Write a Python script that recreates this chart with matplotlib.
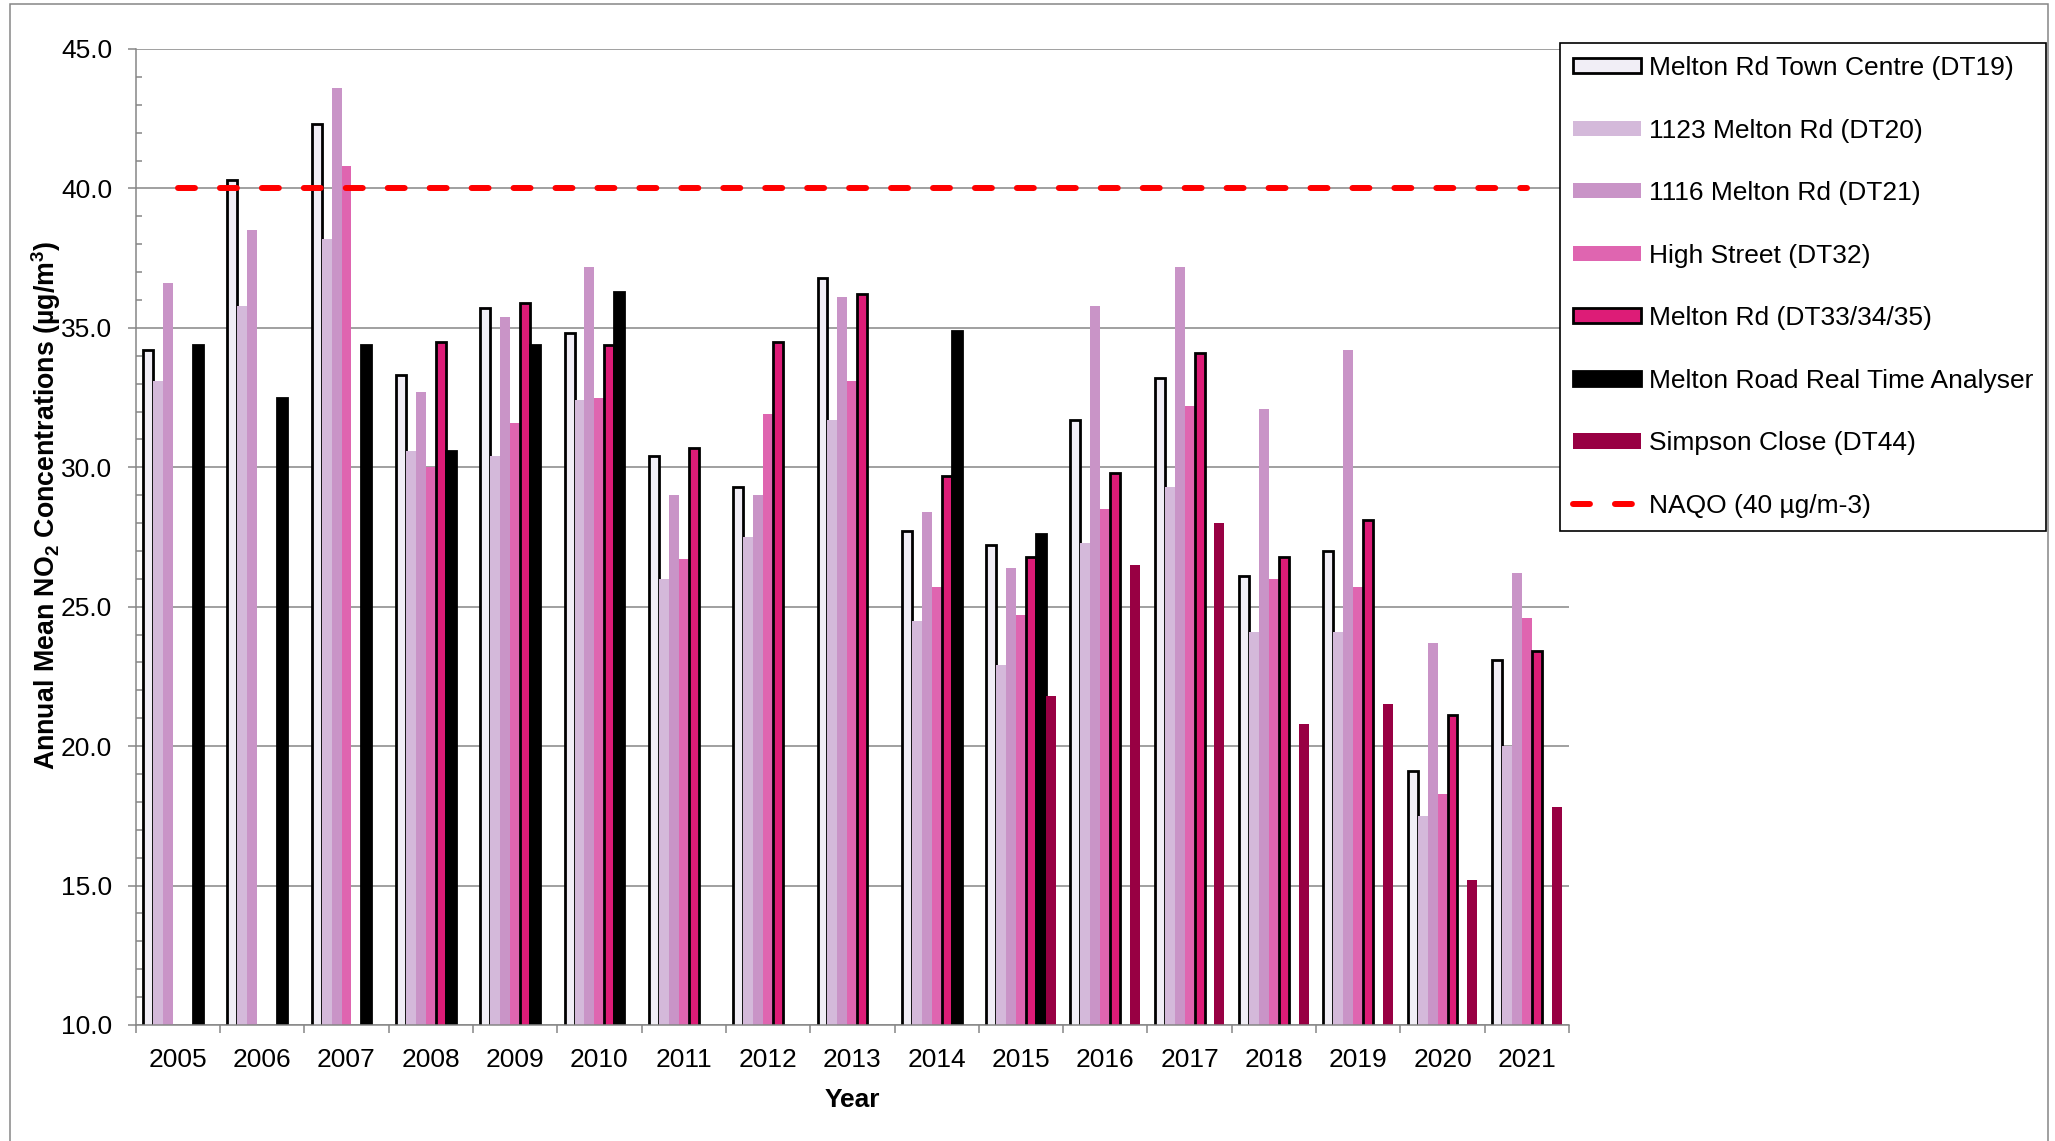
import numpy as np
import matplotlib
matplotlib.use('Agg')
import matplotlib.pyplot as plt
from matplotlib.patches import Rectangle

plt.rcParams['font.family'] = ['Liberation Sans', 'DejaVu Sans']
plt.rcParams['mathtext.fontset'] = 'custom'
plt.rcParams['mathtext.rm'] = 'Liberation Sans'
plt.rcParams['mathtext.bf'] = 'Liberation Sans:bold'
plt.rcParams['mathtext.default'] = 'bf'
plt.rcParams['lines.scale_dashes'] = False

years = ['2005', '2006', '2007', '2008', '2009', '2010', '2011', '2012', '2013',
         '2014', '2015', '2016', '2017', '2018', '2019', '2020', '2021']
nan = np.nan

dt19 = [34.2, 40.3, 42.3, 33.3, 35.7, 34.8, 30.4, 29.3, 36.8, 27.7, 27.2, 31.7, 33.2, 26.1, 27.0, 19.1, 23.1]
dt20 = [33.1, 35.8, 38.2, 30.6, 30.4, 32.4, 26.0, 27.5, 31.7, 24.5, 22.9, 27.3, 29.3, 24.1, 24.1, 17.5, 20.0]
dt21 = [36.6, 38.5, 43.6, 32.7, 35.4, 37.2, 29.0, 29.0, 36.1, 28.4, 26.4, 35.8, 37.2, 32.1, 34.2, 23.7, 26.2]
dt32 = [nan, nan, 40.8, 30.0, 31.6, 32.5, 26.7, 31.9, 33.1, 25.7, 24.7, 28.5, 32.2, 26.0, 25.7, 18.3, 24.6]
dt33 = [nan, nan, nan, 34.5, 35.9, 34.4, 30.7, 34.5, 36.2, 29.7, 26.8, 29.8, 34.1, 26.8, 28.1, 21.1, 23.4]
analyser = [34.4, 32.5, 34.4, 30.6, 34.4, 36.3, nan, nan, nan, 34.9, 27.6, nan, nan, nan, nan, nan, nan]
dt44 = [nan, nan, nan, nan, nan, nan, nan, nan, nan, nan, 21.8, 26.5, 28.0, 20.8, 21.5, 15.2, 17.8]
naqo = [40.0] * len(years)

series = [
    ('Melton Rd Town Centre (DT19)', dt19, '#f1eef6', 'black'),
    ('1123 Melton Rd (DT20)', dt20, '#d4b9da', 'none'),
    ('1116 Melton Rd (DT21)', dt21, '#c994c7', 'none'),
    ('High Street (DT32)', dt32, '#df65b0', 'none'),
    ('Melton Rd (DT33/34/35)', dt33, '#dd1c77', 'black'),
    ('Melton Road Real Time Analyser', analyser, 'black', 'black'),
    ('Simpson Close (DT44)', dt44, '#980043', 'none'),
]

W, H = 2055, 1141
fig = plt.figure(figsize=(W / 100, H / 100), dpi=100)
ax = fig.add_axes([135.7 / W, 1 - 1025 / H, (1569 - 135.7) / W, (1025 - 49) / H])

x = np.arange(len(years))
bw = 0.118
handles = []
for k, (name, vals, fc, ec) in enumerate(series):
    bars = ax.bar(x + (k - 3) * bw, vals, width=bw, color=fc, edgecolor=ec,
                  linewidth=2.0 if ec != 'none' else 0, label=name, zorder=2)
    handles.append(bars)

line, = ax.plot(x, naqo, color='#ff0000', lw=4.3, dashes=(12.2, 18), dash_capstyle='round',
                label='NAQO (40 \u00b5g/m-3)', zorder=3)
handles.append(line)

grey = '#868686'
ax.set_xlim(-0.5, len(years) - 0.5)
ax.set_ylim(10, 45)
ax.set_yticks(np.arange(10, 46, 5))
ax.set_yticks(np.arange(10, 46, 1), minor=True)
ax.set_yticklabels([f'{v:.1f}' for v in np.arange(10, 46, 5)])
ax.set_xticks(x)
ax.set_xticklabels(years)
ax.set_xticks(np.arange(-0.5, len(years)), minor=True)
ax.grid(axis='y', which='major', color=grey, lw=1.1, zorder=0)
ax.set_axisbelow(True)

for side in ['top', 'right']:
    ax.spines[side].set_visible(False)
for side in ['left', 'bottom']:
    ax.spines[side].set_color(grey)
    ax.spines[side].set_linewidth(1.1)

ax.tick_params(axis='y', which='major', direction='out', length=5.8, width=1.1, color=grey,
               pad=11, labelsize=19)
ax.tick_params(axis='y', which='minor', direction='in', length=4.3, width=1.1, color=grey)
ax.tick_params(axis='x', which='major', length=0, pad=16.5, labelsize=19)
ax.tick_params(axis='x', which='minor', direction='out', length=5.8, width=1.1, color=grey)

ax.set_xlabel('Year', fontsize=19, fontweight='bold', labelpad=11.5)
fig.text(46 / W, 1 - 505 / H, r'Annual Mean NO$_2$ Concentrations (µg/m$^3$)',
         rotation=90, ha='center', va='center', fontsize=19.3, fontweight='bold')

leg = fig.legend(handles=handles, labels=[h.get_label() for h in handles],
                 loc='upper left', bbox_to_anchor=(1560 / W, 1 - 43 / H),
                 bbox_transform=fig.transFigure, borderaxespad=0, fontsize=19,
                 frameon=True, fancybox=False, framealpha=1, edgecolor='black',
                 handlelength=2.58, handleheight=0.5, handletextpad=0.28,
                 labelspacing=1.46, borderpad=0.5)
leg.get_frame().set_linewidth(1.2)

# grey border around the whole chart area
fig.patches.append(Rectangle((10 / W, -0.05), (2048 - 10) / W, 1.05 - 4 / H,
                             transform=fig.transFigure, fill=False,
                             edgecolor=grey, lw=1.1))

fig.savefig('out.png', dpi=100)
